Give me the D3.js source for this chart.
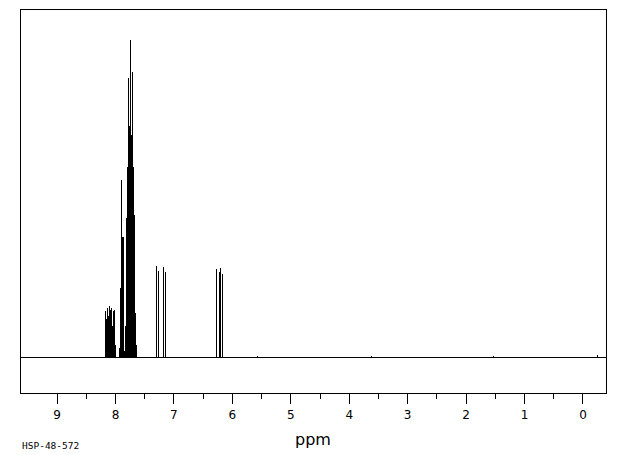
<!DOCTYPE html>
<html>
<head>
<meta charset="utf-8">
<script src="https://cdn.jsdelivr.net/npm/d3@7/dist/d3.min.js"></script>
<style>
  html, body { margin: 0; padding: 0; background: #fff; }
  svg { display: block; }
</style>
</head>
<body>
<svg id="chart" width="620" height="455"></svg>
<script>
// ---- data (ppm position, relative intensity) ----
const peakPpm = [
  8.171, 8.163, 8.154, 8.146, 8.137, 8.128, 8.120, 8.111, 8.104, 8.098, 8.090, 8.081, 8.075, 8.069, 8.060, 8.052, 8.043, 8.034, 8.024, 8.012, 8.002, 7.991,
  7.922, 7.914, 7.906, 7.897, 7.885, 7.875, 7.869, 7.863, 7.851, 7.841,
  7.828, 7.822, 7.816, 7.806, 7.800, 7.795, 7.789, 7.783, 7.777, 7.772, 7.766, 7.761, 7.755, 7.749, 7.743, 7.738, 7.732, 7.727, 7.721, 7.715, 7.710, 7.705, 7.699, 7.693, 7.687, 7.681, 7.675, 7.670, 7.663, 7.657, 7.651, 7.645, 7.638, 7.632,
  7.286, 7.252, 7.173, 7.132,
  6.259, 6.215, 6.191, 6.160,
  5.560, 3.610, 1.530, -0.250
];
const peakHeight = [
  10, 12, 14.5, 9, 12, 15.6, 10, 13, 11, 16.3, 9, 12, 10, 15, 11, 15.6, 10, 14.5, 9, 15, 8, 4,
  3, 22, 12, 56, 30, 38, 30, 38, 4, 2,
  2, 4, 10, 44, 30, 43, 40, 60, 52, 88, 60, 72, 55, 73, 60, 100, 65, 72, 62, 70, 68, 90, 58, 61, 52, 60, 48, 45, 32, 14, 10, 7, 4, 2,
  28.9, 27.3, 28.5, 26.9,
  27.8, 27.0, 28.3, 26.3,
  0.5, 0.4, 0.4, 0.9
];
const majorTicks = [9, 8, 7, 6, 5, 4, 3, 2, 1, 0];
const minorTicks = [8.5, 7.5, 6.5, 5.5, 4.5, 3.5, 2.5, 1.5, 0.5];
const xTitle = "ppm";
const sampleId = "HSP-48-572";

// ---- layout ----
const svg = d3.select("#chart");
const frameL = 20.5, frameR = 606.5, frameT = 9.5, frameB = 393.5;
const x = d3.scaleLinear().domain([9.617, -0.4107]).range([frameL, frameR]);
const y = d3.scaleLinear().domain([0, 100]).range([357.5, 40]);

const g = svg.append("g").attr("shape-rendering", "crispEdges");

// frame
g.append("rect")
  .attr("x", frameL).attr("y", frameT)
  .attr("width", frameR - frameL).attr("height", frameB - frameT)
  .attr("fill", "none").attr("stroke", "#000").attr("stroke-width", 1);

// baseline of spectrum
g.append("line")
  .attr("x1", frameL).attr("x2", frameR)
  .attr("y1", y(0)).attr("y2", y(0))
  .attr("stroke", "#000").attr("stroke-width", 1);

// peaks
const peaks = peakPpm.map((p, i) => ({ p, h: peakHeight[i] }));
g.selectAll("line.peak").data(peaks).enter().append("line")
  .attr("class", "peak")
  .attr("x1", d => x(d.p)).attr("x2", d => x(d.p))
  .attr("y1", y(0)).attr("y2", d => y(d.h))
  .attr("stroke", "#000").attr("stroke-width", 1);

// axis
const axis = d3.axisBottom(x).tickValues(majorTicks).tickSize(10).tickPadding(7)
  .tickFormat(d3.format("d"));
const ax = svg.append("g").attr("transform", `translate(0,${frameB})`).call(axis);
ax.select(".domain").remove();
ax.selectAll(".tick line").attr("shape-rendering", "crispEdges").attr("stroke", "#000");
ax.selectAll(".tick text")
  .attr("font-family", "DejaVu Sans, sans-serif").attr("font-size", 12).attr("fill", "#000");

const axMinor = d3.axisBottom(x).tickValues(minorTicks).tickSize(5).tickFormat("");
const am = svg.append("g").attr("transform", `translate(0,${frameB})`).call(axMinor);
am.select(".domain").remove();
am.selectAll(".tick line").attr("shape-rendering", "crispEdges").attr("stroke", "#000");

// titles
svg.append("text").attr("x", 313).attr("y", 445)
  .attr("text-anchor", "middle")
  .attr("font-family", "DejaVu Sans, sans-serif").attr("font-size", 16)
  .text(xTitle);

svg.append("text").attr("x", 22).attr("y", 448.5)
  .attr("font-family", "DejaVu Sans Mono, monospace").attr("font-size", 9.5)
  .text(sampleId);
</script>
</body>
</html>
